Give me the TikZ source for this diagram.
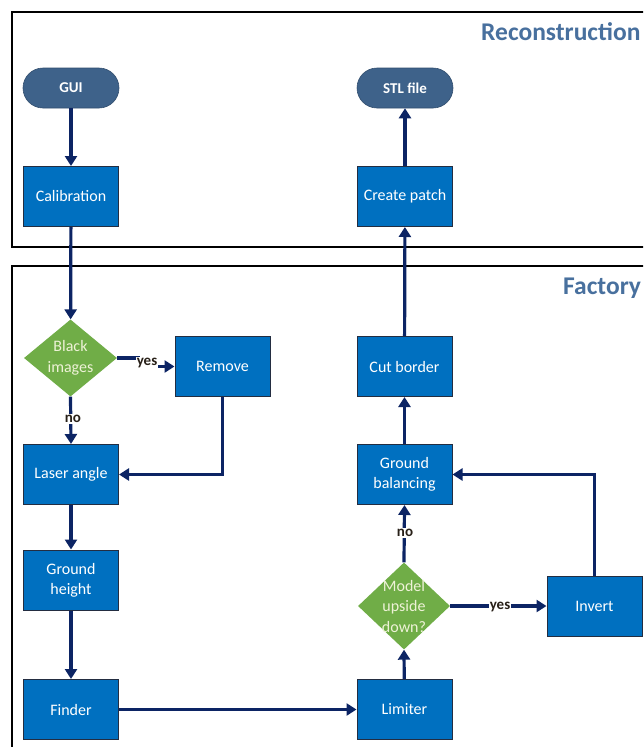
\documentclass[tikz,border=0pt]{standalone}
\usepackage{fontspec}
\setmainfont{Carlito}
\usetikzlibrary{arrows.meta,shapes.geometric,positioning,calc}
\definecolor{boxblue}{RGB}{0,112,192}
\definecolor{boxedge}{RGB}{35,45,65}
\definecolor{pillblue}{RGB}{62,98,138}
\definecolor{diagreen}{RGB}{112,173,71}
\definecolor{arrowblue}{RGB}{12,36,100}
\definecolor{headblue}{RGB}{72,112,158}
\definecolor{diatext}{RGB}{238,242,215}
\definecolor{lbltext}{RGB}{40,32,24}
\tikzset{
  stepbox/.style={rectangle, draw=boxedge, line width=1pt, fill=boxblue,
    minimum width=95, minimum height=60, inner sep=2pt, text=white,
    align=center, font=\fontsize{16}{20}\selectfont},
  pill/.style={rectangle, rounded corners=20, fill=pillblue, draw=pillblue!80!black, line width=0.6pt,
    minimum width=96, minimum height=40, text=white,
    font=\fontsize{15}{20}\selectfont\bfseries},
  dia/.style={diamond, fill=diagreen, inner sep=0pt},
  diatxt/.style={text=diatext, align=center, font=\fontsize{16}{20.5}\selectfont, inner sep=0pt},
  flow/.style={draw=arrowblue, line width=3.2pt, -{Triangle[length=10pt,width=12pt]}},
  lbl/.style={text=lbltext, font=\fontsize{15}{16}\selectfont\bfseries, inner sep=1pt, fill=white},
  frame/.style={draw=black, line width=2pt},
  head/.style={text=headblue, font=\fontsize{25.5}{28}\selectfont\bfseries, anchor=west, inner sep=0pt}
}
\begin{document}
\begin{tikzpicture}[x=1pt,y=-1pt]
\useasboundingbox (0,0) rectangle (643,747);
\clip (0,0) rectangle (643,747);
\fill[white] (0,0) rectangle (643,747);
% frames
\draw[frame] (12,12) rectangle (700,247);
\draw[frame] (12,266) rectangle (700,800);
\node[head] (hrec) at (481,32) {Reconstruction};
\node[head] (hfac) at (563,288) {Factory};
% nodes
\node[pill] (gui) at (71,88) {GUI};
\node[pill] (stl) at (405,88) {STL file};
\node[stepbox] (calib) at (71,196.5) {Calibration};
\node[stepbox] (patch) at (405,196.5) {Create patch};
\node[dia, minimum width=93, minimum height=77] (black) at (70.5,358) {};
\node[diatxt] (blacktxt) at (black.center) {Black\\images};
\node[stepbox] (remove) at (222.5,366.5) {Remove};
\node[stepbox] (laser) at (71,474.5) {Laser angle};
\node[stepbox] (ground) at (71,580) {Ground\\height};
\node[stepbox] (finder) at (71,709.5) {Finder};
\node[stepbox] (limiter) at (404.5,709.5) {Limiter};
\node[dia, minimum width=92, minimum height=87] (upside) at (404,606) {};
\node[diatxt] (upsidetxt) at (upside.center) {Model\\upside\\down?};
\node[stepbox] (invert) at (594.5,606) {Invert};
\node[stepbox] (balance) at (404.5,474.5) {Ground\\balancing};
\node[stepbox] (cut) at (404.5,366.5) {Cut border};
% connectors
\draw[flow] (gui) -- (calib);
\draw[flow] (calib) -- (black);
\draw[flow] (black.east) -- ++(21,0) |- (remove.west);
\node[lbl] (yes1) at (147,363) {yes};
\draw[flow] (black.south) -- (laser.north);
\node[lbl] (no1) at (73,419) {no};
\draw[flow] (remove.south) |- (laser.east);
\draw[flow] (laser) -- (ground);
\draw[flow] (ground) -- (finder);
\draw[flow] (finder) -- (limiter);
\draw[flow] (limiter) -- (upside.south);
\draw[flow] (upside.north) -- (balance.south);
\node[lbl] (no2) at (405,533) {no};
\draw[flow] (upside.east) -- (invert.west);
\node[lbl] (yes2) at (500,607) {yes};
\draw[flow] (invert.north) |- (balance.east);
\draw[flow] (balance) -- (cut);
\draw[flow] (cut) -- (patch);
\draw[flow] (patch) -- (stl);
\end{tikzpicture}
\end{document}
